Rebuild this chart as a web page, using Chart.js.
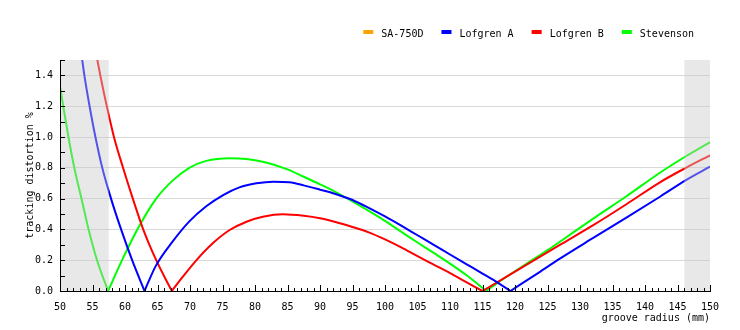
<!DOCTYPE html>
<html>
<head>
<meta charset="utf-8">
<script src="https://cdn.jsdelivr.net/npm/chart.js@4.4.1/dist/chart.umd.min.js"></script>
<style>
    html, body { margin: 0; padding: 0; background: #fff; }
</style>
</head>
<body>
<canvas id="chart" width="740" height="330"></canvas>
<script>

var seriesNames = ["SA-750D", "Lofgren A", "Lofgren B", "Stevenson"];
var seriesColors = ["#ffa500", "#0000ff", "#ff0000", "#00ff00"];

// groove radius (mm) / tracking distortion (%)
var sa750dR = [];
var sa750dD = [];

var lofgrenAR = [50, 52, 53.42, 53.75, 54.55, 55.45, 56.5, 57.85, 59.4, 61.1, 63, 64.7, 67.4, 69.9, 72.5, 75.1, 77.6, 80.2, 82.8, 85.3,
    87.5, 90, 92.5, 95, 97.5, 100, 102.5, 105, 107.5, 110, 112.5, 115, 117.5, 119.3, 123.6, 126.9, 132.1, 137.2, 142.3, 146.3, 150];
var lofgrenAD = [2.5, 1.93, 1.5, 1.4, 1.2, 1.0, 0.8, 0.6, 0.4, 0.2, 0, 0.16, 0.325, 0.452, 0.55, 0.623, 0.673, 0.699, 0.71, 0.706,
    0.686, 0.658, 0.628, 0.591, 0.54, 0.484, 0.424, 0.362, 0.30, 0.237, 0.175, 0.113, 0.05, 0, 0.118, 0.21, 0.346, 0.478, 0.612, 0.72, 0.807];

var lofgrenBR = [50, 54.5, 55.75, 56.2, 57.2, 58.3, 59.7, 61.2, 62.8, 64.8, 67.2, 68.9, 71, 73.5, 76.1, 78.7, 81.2, 84.3,
    87.5, 90, 92.5, 95, 97.5, 100, 102.5, 105, 107.5, 110, 112.5, 115, 126.9, 132.1, 137.2, 142.3, 146.3, 150];
var lofgrenBD = [3.0, 1.78, 1.5, 1.4, 1.2, 1.0, 0.8, 0.6, 0.4, 0.2, 0, 0.093, 0.201, 0.31, 0.396, 0.45, 0.482, 0.498,
    0.488, 0.472, 0.446, 0.416, 0.381, 0.335, 0.283, 0.226, 0.171, 0.116, 0.058, 0, 0.299, 0.429, 0.565, 0.706, 0.80, 0.881];

var stevensonR = [50, 50.5, 51.3, 52.2, 53.3, 54.4, 55.7, 57.4, 59.6, 61.9, 64.8, 67.4, 69.9, 72.5, 76.1, 78.7, 81.7, 85,
    87.5, 90, 92.5, 95, 97.5, 100, 102.5, 105, 107.5, 110, 112.5, 115, 115.55, 117.5, 120, 122.5, 125, 126.9, 132.1, 137.2, 142.3, 146.3, 150];
var stevensonD = [1.33, 1.2, 1.0, 0.8, 0.6, 0.4, 0.2, 0, 0.205, 0.4, 0.6, 0.72, 0.80, 0.845, 0.862, 0.857, 0.835, 0.79,
    0.742, 0.693, 0.641, 0.582, 0.52, 0.455, 0.385, 0.315, 0.247, 0.178, 0.104, 0.02, 0, 0.058, 0.128, 0.197, 0.265, 0.32, 0.472, 0.617, 0.768, 0.875, 0.966];

// grey bands outside the recorded area
var shadeRanges = [[50, 57.5], [146.05, 150]];

var seriesR = [sa750dR, lofgrenAR, lofgrenBR, stevensonR];
var seriesD = [sa750dD, lofgrenAD, lofgrenBD, stevensonD];

// cut a curve at its nulls so every arc is smoothed on its own and the V tips stay sharp
function arcs(rs, ds) {
    var out = [], cur = [];
    rs.forEach(function (r, i) {
        cur.push({x: r, y: ds[i]});
        if (ds[i] === 0 && cur.length > 1) {
            out.push(cur);
            cur = [{x: r, y: 0}];
        }
    });
    if (cur.length > 1) out.push(cur);
    return out;
}

var datasets = [];
seriesR.forEach(function (rs, i) {
    var parts = arcs(rs, seriesD[i]);
    if (parts.length === 0) parts = [[]];
    parts.forEach(function (p) {
        datasets.push({
            label: seriesNames[i],
            data: p,
            borderColor: seriesColors[i],
            backgroundColor: seriesColors[i],
            borderWidth: 2,
            pointRadius: 0,
            cubicInterpolationMode: 'monotone',
            fill: false,
            clip: 0
        });
    });
});

var shade = {
    id: 'shade',
    afterDatasetsDraw: function (chart) {
        var ctx = chart.ctx, x = chart.scales.x, a = chart.chartArea;
        ctx.save();
        ctx.fillStyle = 'rgba(200,200,200,0.42)';
        shadeRanges.forEach(function (s) {
            var x0 = x.getPixelForValue(s[0]), x1 = x.getPixelForValue(s[1]);
            ctx.fillRect(x0, a.top, x1 - x0, a.bottom - a.top);
        });
        ctx.restore();
    }
};

// tick marks pointing into the plot
var innerTicks = {
    id: 'innerTicks',
    afterDraw: function (chart) {
        var ctx = chart.ctx, x = chart.scales.x, y = chart.scales.y, a = chart.chartArea;
        ctx.save();
        ctx.strokeStyle = '#000';
        ctx.lineWidth = 1;
        ctx.beginPath();
        for (var i = 0; i <= 15; i++) {
            var py = Math.round(y.getPixelForValue(i / 10)) + 0.5;
            ctx.moveTo(a.left, py);
            ctx.lineTo(a.left + 5, py);
        }
        for (var r = 50; r <= 150; r++) {
            var px = Math.round(x.getPixelForValue(r)) + 0.5;
            ctx.moveTo(px, a.bottom);
            ctx.lineTo(px, a.bottom - (r % 5 === 0 ? 6 : 3));
        }
        ctx.stroke();
        ctx.restore();
    }
};

// legend row, right aligned above the plot
var legendRow = {
    id: 'legendRow',
    afterDraw: function (chart) {
        var ctx = chart.ctx, a = chart.chartArea;
        ctx.save();
        ctx.font = "10px 'DejaVu Sans Mono', monospace";
        ctx.textBaseline = 'middle';
        var widths = seriesNames.map(function (n) { return ctx.measureText(n).width; });
        var total = 0;
        widths.forEach(function (w) { total += 18 + w; });
        total += 18 * (widths.length - 1);
        var x = a.right - 16 - total;
        seriesNames.forEach(function (n, i) {
            ctx.fillStyle = seriesColors[i];
            ctx.fillRect(x, 30, 10, 4);
            ctx.fillStyle = '#000';
            ctx.fillText(n, x + 18, 34);
            x += 18 + widths[i] + 18;
        });
        ctx.restore();
    }
};

Chart.defaults.font.family = "'DejaVu Sans Mono', monospace";
Chart.defaults.font.size = 10;
Chart.defaults.color = '#000';

var myChart = new Chart(document.getElementById('chart'), {
    type: 'line',
    data: {datasets: datasets},
    options: {
        responsive: false,
        animation: false,
        devicePixelRatio: 1,
        layout: {padding: {top: 60, right: 30, left: 0, bottom: 0}},
        plugins: {
            legend: {display: false},
            tooltip: {enabled: false}
        },
        scales: {
            x: {
                type: 'linear',
                min: 50,
                max: 150,
                afterFit: function (s) { s.height = 39; },
                grid: {display: false, drawTicks: false},
                border: {color: '#000', z: 1},
                ticks: {stepSize: 5, padding: 10, maxRotation: 0, autoSkip: false},
                title: {display: true, text: 'groove radius (mm)', align: 'end', padding: {top: 0, bottom: 6}}
            },
            y: {
                min: 0,
                max: 1.5,
                afterFit: function (s) { s.width = 60; },
                grid: {
                    drawTicks: false,
                    color: function (c) {
                        var t = Math.round(c.tick.value * 10);
                        return (t % 2 === 0 && t < 15) ? '#d9d9d9' : 'rgba(0,0,0,0)';
                    }
                },
                border: {color: '#000', z: 1},
                ticks: {
                    stepSize: 0.1,
                    padding: 7,
                    autoSkip: false,
                    callback: function (v) {
                        var t = Math.round(v * 10);
                        return t % 2 === 0 ? (t / 10).toFixed(1) : '';
                    }
                },
                title: {display: true, text: 'tracking distortion %', padding: {top: 24, bottom: 0}}
            }
        }
    },
    plugins: [shade, innerTicks, legendRow]
});

</script>
</body>
</html>
